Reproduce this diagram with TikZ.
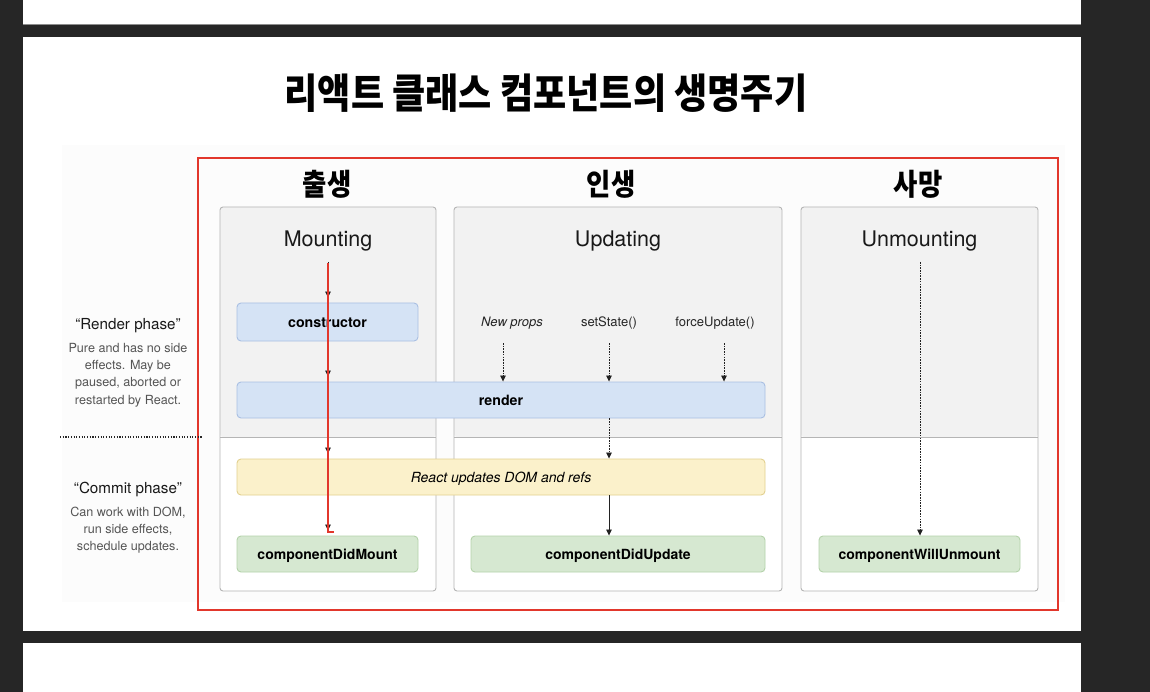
\documentclass[tikz,border=0pt]{standalone}
\usepackage{fontspec}
\setmainfont{TeX Gyre Heros}
\newfontfamily\kr{Noto Sans CJK KR}
\usetikzlibrary{arrows.meta,calc}
\definecolor{darkbg}{HTML}{262626}
\definecolor{innerbg}{HTML}{FCFCFC}
\definecolor{colfill}{HTML}{F2F2F2}
\definecolor{colline}{HTML}{B5B5B5}
\definecolor{bluefill}{HTML}{D5E3F5}
\definecolor{blueline}{HTML}{A9BFE2}
\definecolor{yelfill}{HTML}{FBF1CB}
\definecolor{yelline}{HTML}{E2D08F}
\definecolor{grnfill}{HTML}{D6E8D1}
\definecolor{grnline}{HTML}{B4D2AA}
\definecolor{redframe}{HTML}{E2372C}
\definecolor{greytext}{HTML}{555555}
\definecolor{arrcol}{HTML}{222222}
\begin{document}
\begin{tikzpicture}[x=1pt,y=-1pt,
  col/.style={draw=colline, line width=0.9pt, fill=white, rounded corners=3pt,
    path picture={
      \fill[colfill] (path picture bounding box.north west) rectangle ($(path picture bounding box.north east)+(0,230)$);
      \draw[colline, line width=0.9pt] ($(path picture bounding box.north west)+(0,230)$) -- ($(path picture bounding box.north east)+(0,230)$);
    }},
  box/.style={rounded corners=4pt, line width=0.9pt, inner sep=0pt, align=center, text height=10pt, text depth=0pt},
  bluebox/.style={box, fill=bluefill, draw=blueline, font=\fontsize{14.2}{16}\selectfont\bfseries},
  yelbox/.style={box, fill=yelfill, draw=yelline, font=\fontsize{14}{16}\selectfont\itshape},
  grnbox/.style={box, fill=grnfill, draw=grnline, font=\fontsize{14}{16}\selectfont\bfseries},
  coltitle/.style={font=\fontsize{21.5}{24}\selectfont, text=black!90, text height=15.5pt, text depth=0pt},
  heading/.style={font=\kr\bfseries\fontsize{30}{34}\selectfont, xscale=0.88},
  trig/.style={font=\fontsize{13}{15}\selectfont, text=black!85, text height=9.4pt, text depth=0pt},
  phtitle/.style={font=\fontsize{15.2}{17}\selectfont, text=black!90, text height=11pt, text depth=0pt},
  phbody/.style={font=\fontsize{12.6}{17.3}\selectfont, text=greytext, align=center},
  arr/.style={draw=arrcol, line width=0.8pt, -{Triangle[width=5.5pt,length=6pt]}},
  darr/.style={arr, dash pattern=on 1.6pt off 1.1pt},
  redline/.style={draw=redframe, line width=2pt}
]
% background and slides
\fill[darkbg] (0,0) rectangle (1150,692);
\fill[white] (23,0) rectangle (1081,24);
\draw[black!45, line width=0.8pt] (23,24) -- (1081,24);
\fill[white] (23,37) rectangle (1081,631);
\fill[innerbg] (62,145) rectangle (1065,602);
\fill[white] (23,643) rectangle (1081,692);

% title
\node[font=\kr\bfseries\fontsize{41}{46}\selectfont, xscale=0.88] (title) at (546,93) {리액트 클래스 컴포넌트의 생명주기};

% red frame
\draw[redframe, line width=2pt] (198,158) rectangle (1058,610);

% headings
\node[heading] (h1) at (327,184) {출생};
\node[heading] (h2) at (611,184) {인생};
\node[heading] (h3) at (918,184) {사망};

% columns
\node[col, minimum width=216, minimum height=384] (mount) at (328,399) {};
\node[col, minimum width=328, minimum height=384] (upd) at (618,399) {};
\node[col, minimum width=237, minimum height=384] (unm) at (919.5,399) {};

\node[coltitle] (mt) at (328,239) {Mounting};
\node[coltitle] (ut) at (618,239) {Updating};
\node[coltitle] (unt) at (919.5,239) {Unmounting};

% boxes
\node[bluebox, minimum width=181, minimum height=38] (con) at (327.5,322) {constructor};
\node[bluebox, minimum width=528, minimum height=36] (ren) at (501,400) {render};
\node[yelbox, minimum width=528, minimum height=36] (rea) at (501,477) {React updates DOM and refs};
\node[grnbox, minimum width=181, minimum height=36] (cdm) at (327.5,554) {componentDidMount};
\node[grnbox, minimum width=294, minimum height=36] (cdu) at (618,554) {componentDidUpdate};
\node[grnbox, minimum width=201, minimum height=36] (cwu) at (919.5,554) {componentWillUnmount};

% update triggers
\node[trig, font=\fontsize{13}{15}\selectfont\itshape] (np) at (512,322) {New props};
\node[trig] (ss) at (609,322) {setState()};
\node[trig] (fu) at (715,322) {forceUpdate()};
\coordinate (npa) at (503,343);
\coordinate (ssa) at (609,343);
\coordinate (fua) at (724,343);
\draw[darr] (npa) -- (npa |- ren.north);
\draw[darr] (ssa) -- (ssa |- ren.north);
\draw[darr] (fua) -- (fua |- ren.north);
\draw[darr] (ren.south -| ssa) -- (rea.north -| ssa);
\draw[arr] (rea.south -| ssa) -- (cdu.north -| ssa);

% unmounting arrow
\coordinate (us) at (920,262);
\draw[darr] (us) -- (us |- cwu.north);

% mounting arrows
\coordinate (ms) at (328,262);
\draw[arr, shorten >=5pt] (ms) -- (ms |- con.north);
\draw[arr, shorten >=5pt] (con.south -| ms) -- (ren.north -| ms);
\draw[arr, shorten >=5pt] (ren.south -| ms) -- (rea.north -| ms);
\draw[arr, shorten >=5pt] (rea.south -| ms) -- (cdm.north -| ms);

% red overlay line
\coordinate (rs) at (328,263);
\coordinate (re) at (328,532);
\draw[redline] (rs) -- (re);
\draw[redline, line width=1.3pt] ($(re)+(-1,0)$) -- ($(re)+(6,0)$);

% phase descriptions
\node[phtitle] (rph) at (128,324) {“Render phase”};
\node[phbody] (rphd) at (128,375) {Pure and has no side\\effects. May be\\paused, aborted or\\restarted by React.};
\coordinate (dl) at (60,437);
\coordinate (dr) at (202,437);
\draw[black!85, line width=1.3pt, dash pattern=on 1.1pt off 1.6pt] (dl) -- (dr);
\node[phtitle] (cph) at (128,488) {“Commit phase”};
\node[phbody] (cphd) at (128,530) {Can work with DOM,\\run side effects,\\schedule updates.};
\end{tikzpicture}
\end{document}
